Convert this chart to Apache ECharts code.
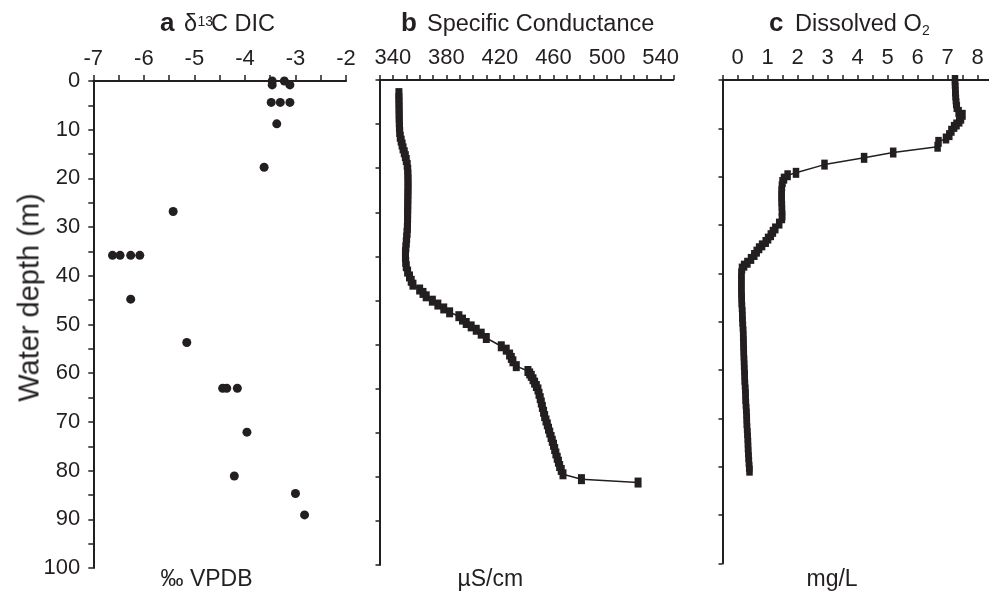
<!DOCTYPE html>
<html>
<head>
<meta charset="utf-8">
<script src="https://cdn.jsdelivr.net/npm/echarts@6/dist/echarts.min.js"></script>
<style>
html,body{margin:0;padding:0;background:#fff}
#wrap{position:relative;width:989px;height:592px;overflow:hidden}
#c{position:absolute;left:0;top:0;width:989px;height:592px}
.t{position:absolute;white-space:nowrap;color:#231f20;font-family:"Liberation Sans",Arial,Helvetica,sans-serif;pointer-events:none;z-index:5}
</style>
</head>
<body>
<div id="wrap">
<div id="c"></div>
<div class="t" style="left:160px;top:9px;font-size:26px;line-height:26px;font-weight:bold">a</div>
<div class="t" style="left:184px;top:11.5px;font-size:23.5px;line-height:23.5px">δ</div>
<div class="t" style="left:197.5px;top:14px;font-size:14px;line-height:14px">13</div>
<div class="t" style="left:211px;top:11.5px;font-size:23.5px;line-height:23.5px">C DIC</div>
<div class="t" style="left:401px;top:9px;font-size:26px;line-height:26px;font-weight:bold">b</div>
<div class="t" style="left:427px;top:11.5px;font-size:23.5px;line-height:23.5px">Specific Conductance</div>
<div class="t" style="left:769px;top:9px;font-size:26px;line-height:26px;font-weight:bold">c</div>
<div class="t" style="left:795px;top:11.5px;font-size:23.5px;line-height:23.5px">Dissolved O</div>
<div class="t" style="left:922px;top:23px;font-size:14px;line-height:14px">2</div>
<div class="t" style="left:160.5px;top:566.5px;font-size:23px;line-height:23px">‰ VPDB</div>
<div class="t" style="left:457.5px;top:566.5px;font-size:23px;line-height:23px">µS/cm</div>
<div class="t" style="left:806.5px;top:566.5px;font-size:23px;line-height:23px">mg/L</div>
<div class="t" style="left:-121px;top:282.5px;width:300px;text-align:center;font-size:29px;line-height:29px;transform:rotate(-90deg);transform-origin:150px 14.5px">Water depth (m)</div>
</div>
<script>
// ---- Panel a: δ13C DIC (‰ VPDB) vs depth (m)
const dicDepth = [0, 0.8, 0, 0.8, 4.4, 4.4, 4.4, 8.8, 17.7, 26.8, 35.8, 35.8, 35.8, 35.8, 44.8, 53.7, 63.1, 63.1, 63.1, 72.1, 81.1, 84.7, 89.1];
const dicValue = [-3.46, -3.46, -3.22, -3.11, -3.48, -3.30, -3.11, -3.37, -3.62, -5.42, -6.62, -6.47, -6.26, -6.08, -6.26, -5.15, -4.44, -4.36, -4.15, -3.96, -4.21, -3.00, -2.82];

// ---- Panel b: specific conductance (µS/cm) vs depth (m)
const condDepth = [2.7, 3.7, 4.7, 5.7, 6.7, 7.7, 8.7, 9.7, 10.7, 11.7, 12.5, 13.3, 14.1, 14.9, 15.7, 16.5, 17.5, 18.5,
  19.5, 20.5, 21.5, 22.5, 23.5, 24.5, 25.5, 26.5, 27.5, 28.5, 29.5, 30.5, 31.5, 32.5, 33.5,
  34.5, 35.5, 36.5, 37.5, 38.4, 39.5, 40.5, 41.4, 42.2, 43.2, 43.9, 44.6, 45.5, 46.3, 47.1, 47.9, 48.7, 49.4, 50.1, 50.8, 51.5, 52.3, 53.2,
  54.9, 55.6, 56.6, 57.3, 58.0, 59.0, 60.0, 60.5, 61.0, 61.7, 62.4, 63.1, 63.8, 64.7, 65.6, 66.5, 67.4, 68.4, 69.3, 70.2, 71.0, 71.9, 72.7,
  73.6, 74.4, 75.2, 76.1, 77.0, 77.9, 78.7, 79.6, 80.4, 81.3, 82.3, 83.0];
const condValue = [344.5, 344.5, 344.6, 344.6, 344.7, 344.7, 344.8, 344.9, 345.1, 345.5, 346.2, 346.9, 347.6, 348.5, 349.3, 350.0, 350.7, 351.1,
  351.2, 351.3, 351.3, 351.3, 351.2, 351.2, 351.1, 351.1, 351.0, 351.0, 350.9, 350.8, 350.6, 350.3, 350.0,
  349.7, 349.4, 349.4, 349.6, 350.0, 351.0, 352.4, 353.7, 355.0, 360.0, 362.5, 364.9, 369.5, 373.6, 378.0, 382.4, 389.3, 392.0, 394.8, 398.5, 402.3, 406.0, 409.8,
  421.0, 424.7, 427.2, 428.5, 429.7, 432.2, 440.9, 442.2, 443.4, 444.7, 445.9, 447.2, 448.4, 449.2, 450.1, 450.9, 451.7, 452.6, 453.4, 454.4, 455.4, 456.3, 457.2,
  458.2, 459.1, 460.0, 460.9, 461.8, 462.8, 463.7, 464.6, 465.8, 467.1, 480.9, 523.2];

// ---- Panel c: dissolved O2 (mg/L) vs depth (m)
const doDepth = [0.0, 0.8, 1.6, 2.4, 3.2, 4.0, 4.8, 5.6, 6.6, 7.2, 8.0, 8.6, 9.2, 9.7, 10.5, 11.4, 12.1, 12.8, 13.8, 15.0, 16.1, 17.5, 19.2, 19.7, 20.4, 21.1,
  22, 23, 24, 25, 26, 27, 28, 28.6, 29.7, 30.7, 31.4, 32.1, 32.8, 33.5, 34.2, 34.8, 35.5, 36.2, 37.0, 37.8, 38.4, 39.0,
  40, 41, 42, 43, 44, 45, 46, 47, 48, 49, 50, 51, 52, 53, 54, 55, 56, 57, 58, 59, 60, 61, 62, 63, 64, 65, 66, 67, 68, 69, 70,
  71, 72, 73, 74, 75, 76, 77, 78, 79, 80, 80.8];
const doValue = [7.25, 7.25, 7.26, 7.26, 7.27, 7.28, 7.29, 7.31, 7.37, 7.50, 7.45, 7.39, 7.30, 7.22, 7.13, 7.06, 6.95, 6.70, 6.67, 5.19, 4.22, 2.90, 1.95, 1.67, 1.55, 1.50,
  1.48, 1.47, 1.47, 1.47, 1.48, 1.48, 1.49, 1.48, 1.39, 1.26, 1.18, 1.11, 1.02, 0.94, 0.82, 0.72, 0.64, 0.56, 0.45, 0.33, 0.22, 0.15,
  0.13, 0.13, 0.13, 0.13, 0.13, 0.14, 0.14, 0.15, 0.16, 0.16, 0.17, 0.18, 0.19, 0.19, 0.20, 0.20, 0.21, 0.21, 0.22, 0.22, 0.23, 0.24, 0.24, 0.25, 0.26, 0.27, 0.27, 0.28, 0.29, 0.30, 0.31,
  0.31, 0.32, 0.33, 0.34, 0.35, 0.35, 0.36, 0.37, 0.38, 0.39, 0.40];

const FONT = '"Liberation Sans", Arial, Helvetica, sans-serif';
const INK = '#231f20';

const axLine = () => ({ show: true, onZero: false, lineStyle: { color: INK, width: 2 } });
const tickStyle = () => ({ color: INK, width: 1.5 });
const lbl = (fmt) => ({ show: true, fontSize: 22, margin: 11, color: INK, fontFamily: FONT, formatter: fmt });
const noLbl = () => ({ show: true, fontSize: 10, color: INK, formatter: () => '' });
const zip = (xs, ys) => xs.map((x, i) => [x, ys[i]]);

const B_LEFT = 379.5, B_PX = 1.3383, B_MIN = 330, B_MAX = 549.5;
const C_LEFT = 722.5, C_PX = 30, C_MIN = -0.5, C_MAX = 8.5;
const G = (o) => Object.assign({ outerBoundsMode: 'none', containLabel: false }, o);

const chart = echarts.init(document.getElementById('c'), null, { renderer: 'canvas' });

const option = {
  animation: false,
  textStyle: { fontFamily: FONT, color: INK },
  grid: [
    G({ left: 93.3, top: 81, width: 252.7, height: 487 }),
    G({ left: B_LEFT, top: 80, width: (B_MAX - B_MIN) * B_PX, height: 485 }),
    G({ left: C_LEFT, top: 80, width: (C_MAX - C_MIN) * C_PX, height: 483.5 })
  ],
  xAxis: [
    { gridIndex: 0, type: 'value', position: 'top', min: -7, max: -2, interval: 0.5, axisLine: axLine(),
      axisTick: { show: true, length: 6, lineStyle: tickStyle() },
      axisLabel: lbl(v => Number.isInteger(v) ? String(v) : ''), splitLine: { show: false } },
    { gridIndex: 1, type: 'value', position: 'top', min: B_MIN, max: B_MAX, interval: 10, axisLine: axLine(),
      axisTick: { show: true, length: 5, lineStyle: tickStyle() },
      axisLabel: lbl(v => (Math.round(v) - 340) % 40 === 0 ? String(Math.round(v)) : ''), splitLine: { show: false } },
    { gridIndex: 2, type: 'value', position: 'top', min: C_MIN, max: C_MAX, interval: 0.5, axisLine: axLine(),
      axisTick: { show: true, length: 5, lineStyle: tickStyle() },
      axisLabel: lbl(v => Number.isInteger(v) && v >= 0 ? String(v) : ''), splitLine: { show: false } }
  ],
  yAxis: [
    { gridIndex: 0, type: 'value', position: 'left', inverse: true, min: 0, max: 100, interval: 5, axisLine: axLine(),
      axisTick: { show: true, length: 5, lineStyle: tickStyle() },
      axisLabel: { fontSize: 22, margin: 13, color: INK, fontFamily: FONT, formatter: v => v % 10 === 0 ? String(v) : '' },
      splitLine: { show: false } },
    { gridIndex: 1, type: 'value', position: 'left', inverse: true, min: 0, max: 100, interval: 100 / 11, axisLine: axLine(),
      axisTick: { show: true, length: 4, lineStyle: tickStyle() }, axisLabel: noLbl(), splitLine: { show: false } },
    { gridIndex: 2, type: 'value', position: 'left', inverse: true, min: 0, max: 100, interval: 10, axisLine: axLine(),
      axisTick: { show: true, length: 4, lineStyle: tickStyle() }, axisLabel: noLbl(), splitLine: { show: false } }
  ],
  series: [
    { type: 'scatter', xAxisIndex: 0, yAxisIndex: 0, data: zip(dicValue, dicDepth),
      symbol: 'circle', symbolSize: 9, itemStyle: { color: INK, opacity: 1 } },
    { type: 'line', xAxisIndex: 1, yAxisIndex: 1, data: zip(condValue, condDepth),
      symbol: 'rect', symbolSize: [7, 10], showAllSymbol: true,
      lineStyle: { color: INK, width: 1.5 }, itemStyle: { color: INK } },
    { type: 'line', xAxisIndex: 2, yAxisIndex: 2, data: zip(doValue, doDepth),
      symbol: 'rect', symbolSize: [6.5, 10], showAllSymbol: true,
      lineStyle: { color: INK, width: 1.5 }, itemStyle: { color: INK } }
  ]
};
chart.setOption(option);

// Safety net: if an x axis came out without its line/ticks, redraw them from the axis' own scale.
function visibleLineCount(axisIndex) {
  let n = -1;
  (chart._componentsViews || []).forEach(v => {
    const md = v.__model;
    if (md && md.mainType === 'xAxis' && md.componentIndex === axisIndex) {
      n = 0;
      v.group.traverse(el => { if (el.type === 'line' && !el.ignore && !el.invisible) n++; });
    }
  });
  return n;
}
try {
  const extra = [];
  [1, 2].forEach(i => {
    if (visibleLineCount(i) === 0) {
      const am = chart.getModel().getComponent('xAxis', i);
      const ext = am.axis.scale.getExtent();
      const y = chart.convertToPixel({ yAxisIndex: i }, 0);
      const xa = chart.convertToPixel({ xAxisIndex: i }, ext[0]);
      const xb = chart.convertToPixel({ xAxisIndex: i }, ext[1]);
      extra.push({ type: 'line', silent: true, z: 10, shape: { x1: xa - 1, y1: y, x2: xb, y2: y }, style: { stroke: INK, lineWidth: 2 } });
      am.axis.scale.getTicks().forEach(t => {
        const x = chart.convertToPixel({ xAxisIndex: i }, t.value);
        extra.push({ type: 'line', silent: true, z: 10, shape: { x1: x, y1: y, x2: x, y2: y - 5 }, style: { stroke: INK, lineWidth: 1.5 } });
      });
    }
  });
  if (extra.length) chart.setOption({ graphic: extra });
} catch (e) { /* keep the chart as drawn */ }
</script>
</body>
</html>
